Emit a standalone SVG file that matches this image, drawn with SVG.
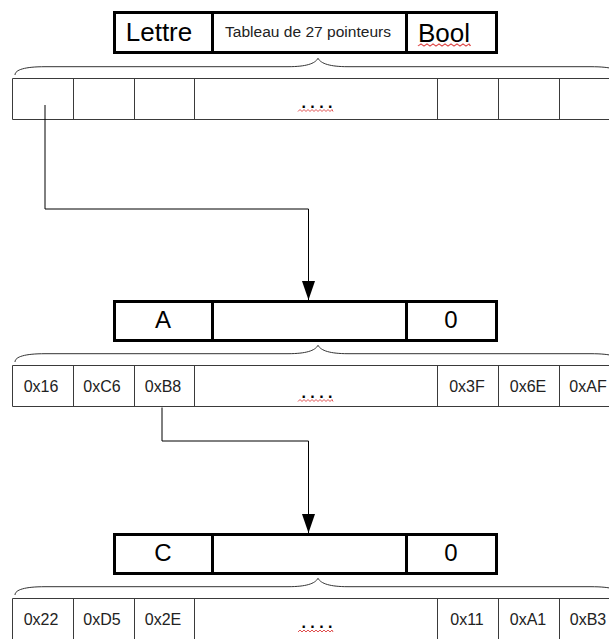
<svg xmlns="http://www.w3.org/2000/svg" width="609" height="639" viewBox="0 0 609 639">
<style>
.box{fill:#fff;stroke:#000;stroke-width:3}
.div{stroke:#000;stroke-width:3}
.cell{fill:none;stroke:#3a3a3a;stroke-width:1}
.brace{fill:none;stroke:#333;stroke-width:1}
.big{font-family:"Liberation Sans",Arial,sans-serif;font-size:26px;fill:#000;text-anchor:middle}
.mid{font-family:"Liberation Sans",Arial,sans-serif;font-size:24px;fill:#000;text-anchor:middle}
.small{font-family:"Liberation Sans",Arial,sans-serif;font-size:15.5px;fill:#222;text-anchor:middle}
.val{font-family:"Liberation Sans",Arial,sans-serif;font-size:16px;fill:#222;text-anchor:middle}
.dots{font-family:"Liberation Sans",Arial,sans-serif;font-size:16px;font-weight:bold;fill:#000;letter-spacing:4.4px}
.squig{fill:none;stroke:#e05050;stroke-width:1}
.conn{fill:none;stroke:#000;stroke-width:1}
</style>
<defs>
<path id="brace" d="M15,8.3 C15,3 25,0 45,0 L288,0 C306,0 315,-3 318,-8.4 C321,-3 330,0 348,0 L591,0 C611,0 621,3 621,8.3"/>
<g id="rowlines">
<path d="M12.5,0.5 H620 M12.5,41.5 H620 M12.5,0.5 V41.5 M73.5,0.5 V41.5 M134.5,0.5 V41.5 M194.5,0.5 V41.5 M437.5,0.5 V41.5 M498.5,0.5 V41.5 M559.5,0.5 V41.5"/>
</g>
<polyline id="wave" points="0,1 2,-1 4,1 6,-1 8,1 10,-1 12,1 14,-1 16,1 18,-1 20,1 22,-1 24,1 26,-1 28,1 30,-1 32,1 34,-1 35,1"/>
<marker id="arrow" markerUnits="userSpaceOnUse" markerWidth="19" markerHeight="13" refX="19" refY="6.5" orient="auto">
<path d="M0,0 L19,6.5 L0,13 z" fill="#000"/>
</marker>
</defs>
<rect width="609" height="639" fill="#fff"/>

<g id="node-struct">
<rect class="box" x="114.5" y="12.5" width="382" height="40"/>
<line class="div" x1="212.5" y1="12" x2="212.5" y2="53"/>
<line class="div" x1="406.5" y1="12" x2="406.5" y2="53"/>
<text class="big" x="159" y="41">Lettre</text>
<text class="small" x="308" y="37" textLength="166" lengthAdjust="spacingAndGlyphs">Tableau de 27 pointeurs</text>
<text class="big" x="444" y="42">Bool</text>
<use href="#wave" class="squig" transform="translate(418,45) scale(1.5,1)"/>
</g>

<g id="node-array0">
<use href="#brace" class="brace" transform="translate(0,66.7)"/>
<use href="#rowlines" class="cell" transform="translate(0,78)"/>
<text class="dots" x="301.5" y="108">....</text>
<use href="#wave" class="squig" transform="translate(298,110.5)"/>
</g>

<g id="node-A">
<rect class="box" x="114.5" y="301.5" width="382" height="39"/>
<line class="div" x1="212.5" y1="301" x2="212.5" y2="341"/>
<line class="div" x1="406.5" y1="301" x2="406.5" y2="341"/>
<text class="mid" x="163" y="328">A</text>
<text class="mid" x="451" y="328">0</text>
</g>

<g id="node-arrayA">
<use href="#brace" class="brace" transform="translate(0,353.7)"/>
<use href="#rowlines" class="cell" transform="translate(0,365)"/>
<text class="val" x="41" y="392">0x16</text>
<text class="val" x="102" y="392">0xC6</text>
<text class="val" x="163" y="392">0xB8</text>
<text class="dots" x="301.5" y="398">....</text>
<use href="#wave" class="squig" transform="translate(298,400.5)"/>
<text class="val" x="467" y="392">0x3F</text>
<text class="val" x="528" y="392">0x6E</text>
<text class="val" x="588" y="392">0xAF</text>
</g>

<g id="node-C">
<rect class="box" x="114.5" y="534.5" width="382" height="39"/>
<line class="div" x1="212.5" y1="534" x2="212.5" y2="574"/>
<line class="div" x1="406.5" y1="534" x2="406.5" y2="574"/>
<text class="mid" x="163" y="561">C</text>
<text class="mid" x="451" y="561">0</text>
</g>

<g id="node-arrayC">
<use href="#brace" class="brace" transform="translate(0,586.7)"/>
<use href="#rowlines" class="cell" transform="translate(0,598)"/>
<text class="val" x="41" y="625">0x22</text>
<text class="val" x="102" y="625">0xD5</text>
<text class="val" x="163" y="625">0x2E</text>
<text class="dots" x="301.5" y="628">....</text>
<use href="#wave" class="squig" transform="translate(298,631)"/>
<text class="val" x="467" y="625">0x11</text>
<text class="val" x="528" y="625">0xA1</text>
<text class="val" x="588" y="625">0xB3</text>
</g>

<g id="connectors">
<path class="conn" d="M45,105 V209 H308.5 V300" marker-end="url(#arrow)"/>
<path class="conn" d="M162,407.5 V441 H308.5 V533" marker-end="url(#arrow)"/>
</g>
</svg>
